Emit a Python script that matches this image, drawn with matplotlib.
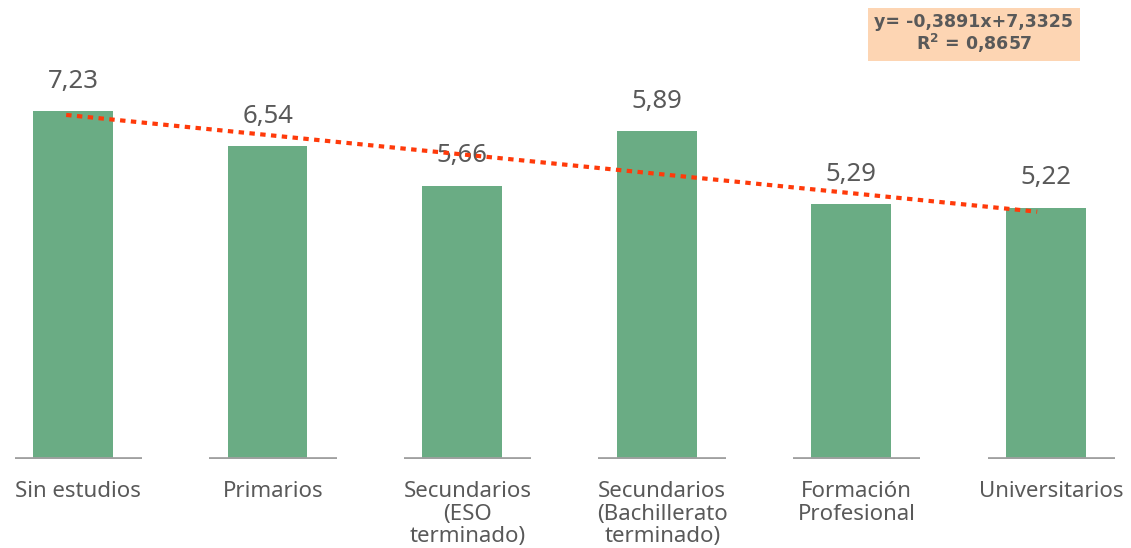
import numpy as np
import matplotlib
matplotlib.use("Agg")
from matplotlib import pyplot as plt

categorias = ["Sin estudios", "Primarios", "Secundarios\n(ESO\nterminado)",
              "Secundarios\n(Bachillerato\nterminado)", "Formación\nProfesional",
              "Universitarios"]
# alturas de barra (la de Bachillerato es mas alta que su etiqueta)
valores = [7.23, 6.50, 5.68, 6.81, 5.29, 5.22]
etiquetas = ["7,23", "6,54", "5,66", "5,89", "5,29", "5,22"]
# linea de tendencia tal como aparece dibujada (x = 1..6)
pend_linea = -0.403
ord_linea = 7.54
ecuacion = "y= -0,3891x+7,3325\nR$^\\mathregular{2}$ = 0,8657"

verde = "#6aac84"
gris_txt = "#595959"

plt.rcParams['font.family'] = ['Noto Sans', 'DejaVu Sans']

fig = plt.figure(figsize=(11.31, 5.48), dpi=100)
ax = fig.add_axes([0, 89/548, 1, 459/548])

x = np.arange(len(categorias))
ax.bar(x, valores, width=0.41, color=verde, zorder=2)

# linea base partida bajo cada categoria
ax.hlines(np.zeros(len(x)), x - 0.3, x + 0.355, color="#a0a0a0", lw=2.7, zorder=3)

# valores encima de las barras
for xi, v, t in zip(x, valores, etiquetas):
    ax.annotate(t, (xi, v), xytext=(0, 12.5), textcoords="offset points",
                ha="center", va="bottom", fontsize=18.5, color=gris_txt)

xt = np.array([x[0] - 0.035, x[-1] - 0.045])
yt = pend_linea * (xt + 1) + ord_linea
ax.plot(xt, yt, color="#ff3a0a", lw=3, dashes=(1.3, 1.3), zorder=4)

ax.set_xlim(-0.375, 5.437)
ax.set_ylim(0, 9.54)
ax.set_xticks(x + 0.028)
ax.set_xticklabels(categorias, fontsize=16, color=gris_txt, linespacing=1.1)
ax.tick_params(axis="x", length=0, pad=16)
ax.set_yticks([])
for s in ax.spines.values():
    s.set_visible(False)

fig.text(0.861, 0.938, ecuacion, ha="center", va="center", family="DejaVu Sans",
         fontsize=12.5, fontweight="bold", color=gris_txt, linespacing=1.0,
         bbox=dict(boxstyle="square,pad=0.38", fc="#fdd5b3", ec="none"))

fig.savefig("out.png", dpi=100)
